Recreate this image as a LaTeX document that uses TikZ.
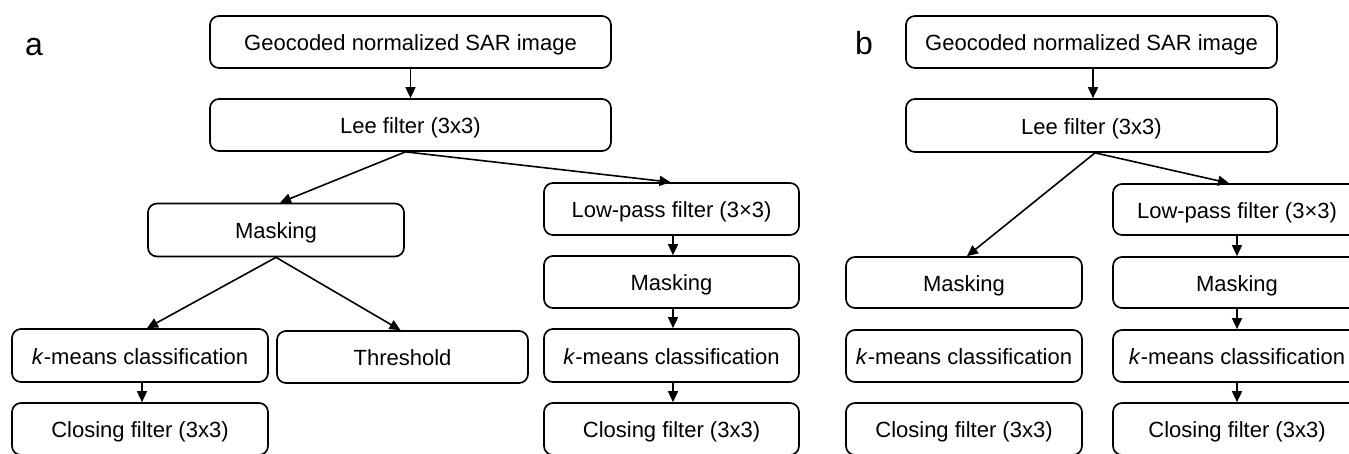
\documentclass[tikz,border=0pt]{standalone}
\usepackage{fontspec}
\setmainfont{Liberation Sans}
\usetikzlibrary{arrows.meta,calc}
\begin{document}
\begin{tikzpicture}[x=1pt,y=-1pt,
  box/.style={draw, line width=1.7pt, rounded corners=9pt, inner sep=0pt,
    text height=17pt, text depth=0pt, font=\fontsize{22}{26}\selectfont, align=center},
  arr/.style={line width=1.6pt, -{Triangle[length=11pt,width=10pt]}},
  panellabel/.style={anchor=base west, inner sep=0pt, font=\fontsize{32}{36}\selectfont}]
\useasboundingbox (0,0) rectangle (1349,453);
\clip (0,0) rectangle (1349,453);
% panel a
\node[panellabel] (la) at (25,55) {a};
\node[box, minimum width=401pt, minimum height=52pt] (geoA) at (410.5,42) {Geocoded normalized SAR image};
\node[box, minimum width=401pt, minimum height=52pt] (leeA) at (410.5,125) {Lee filter (3x3)};
\node[box, minimum width=256pt, minimum height=53pt] (maskA) at (276,230) {Masking};
\node[box, minimum width=256pt, minimum height=53pt] (kmA) at (140,355.5) {\textit{k}-means classification};
\node[box, minimum width=251pt, minimum height=52pt] (thrA) at (402.5,357) {Threshold};
\node[box, minimum width=256pt, minimum height=52pt] (clA) at (140,429) {Closing filter (3x3)};
\node[box, minimum width=255pt, minimum height=52pt] (lpA) at (671.5,209) {Low-pass filter (3×3)};
\node[box, minimum width=255pt, minimum height=52pt] (mk2A) at (671.5,282) {Masking};
\node[box, minimum width=255pt, minimum height=53pt] (km2A) at (671.5,355.5) {\textit{k}-means classification};
\node[box, minimum width=255pt, minimum height=52pt] (cl2A) at (671.5,429) {Closing filter (3x3)};
\draw[arr] (geoA.south) -- (leeA.north);
\draw[arr] ($(leeA.south)+(-5,0)$) -- ($(maskA.north)+(4,0)$);
\draw[arr] ($(leeA.south)+(-5,0)$) -- ($(lpA.north)+(-1,0)$);
\draw[arr] (maskA.south) -- ($(kmA.north)+(7,0)$);
\draw[arr] (maskA.south) -- ($(thrA.north)+(-2,0)$);
\draw[arr] ($(kmA.south)+(2,0)$) -- ($(clA.north)+(2,0)$);
\draw[arr] ($(lpA.south)+(1.5,0)$) -- ($(mk2A.north)+(1.5,0)$);
\draw[arr] ($(mk2A.south)+(1.5,0)$) -- ($(km2A.north)+(1.5,0)$);
\draw[arr] ($(km2A.south)+(1.5,0)$) -- ($(cl2A.north)+(1.5,0)$);
% panel b
\node[panellabel] (lb) at (855,54) {b};
\node[box, minimum width=371pt, minimum height=52pt] (geoB) at (1091.5,42) {Geocoded normalized SAR image};
\node[box, minimum width=371pt, minimum height=53pt] (leeB) at (1091.5,125.5) {Lee filter (3x3)};
\node[box, minimum width=236pt, minimum height=51pt] (maskB) at (964,282.5) {Masking};
\node[box, minimum width=236pt, minimum height=52pt] (kmB) at (964,356) {\textit{k}-means classification};
\node[box, minimum width=236pt, minimum height=52pt] (clB) at (964,429) {Closing filter (3x3)};
\node[box, minimum width=248pt, minimum height=51pt] (lpB) at (1237,209.5) {Low-pass filter (3×3)};
\node[box, minimum width=248pt, minimum height=51pt] (mk2B) at (1237,282.5) {Masking};
\node[box, minimum width=248pt, minimum height=52pt] (km2B) at (1237,356) {\textit{k}-means classification};
\node[box, minimum width=248pt, minimum height=52pt] (cl2B) at (1237,429) {Closing filter (3x3)};
\draw[arr] ($(geoB.south)+(1.5,0)$) -- ($(leeB.north)+(1.5,0)$);
\draw[arr] ($(leeB.south)+(3.5,0)$) -- ($(maskB.north)+(3,0)$);
\draw[arr] ($(leeB.south)+(3.5,0)$) -- ($(lpB.north)+(-8,0)$);
\draw[arr] (lpB.south) -- (mk2B.north);
\draw[arr] (mk2B.south) -- (km2B.north);
\draw[arr] (km2B.south) -- (cl2B.north);
\end{tikzpicture}
\end{document}
